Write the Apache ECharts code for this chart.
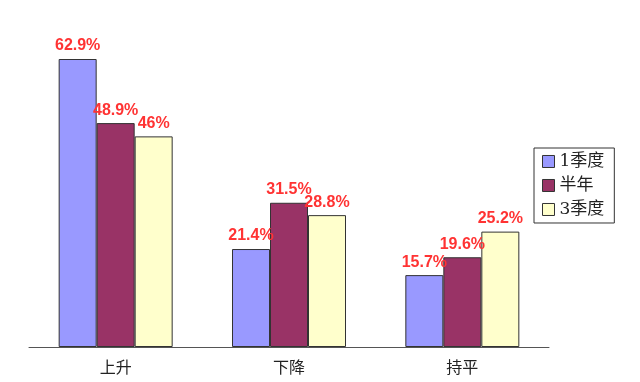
<!DOCTYPE html>
<html><head><meta charset="utf-8">
<script src="https://cdn.jsdelivr.net/npm/echarts@6/dist/echarts.min.js"></script>
<style>html,body{margin:0;padding:0;background:#fff}#c{width:640px;height:382px}</style>
</head><body><div id="c"></div>
<script>
const categories = ['上升', '下降', '持平'];
const seriesNames = ['1季度', '半年', '3季度'];
const q1 = [62.9, 21.4, 15.7];
const half = [48.9, 31.5, 19.6];
const q3 = [46, 28.8, 25.2];
const colors = ['#9999FF', '#993366', '#FFFFCC'];

const chart = echarts.init(document.getElementById('c'));
const mk = (name, data, color) => ({
  name, type: 'bar', data, barWidth: 38, barGap: 0,
  itemStyle: { color, borderColor: '#333', borderWidth: 1 },
  label: { show: true, position: 'top', distance: 5, formatter: p => p.value + '%',
    color: '#FF3333', fontWeight: 'bold', fontSize: 16, fontFamily: 'Liberation Sans, Arial, sans-serif' }
});
chart.setOption({
  animation: false,
  grid: { left: 29, right: 91, top: 26.5, bottom: 35 },
  legend: {
    orient: 'vertical', left: 534, top: 148,
    padding: [5, 10, 5, 8], itemGap: 7, itemWidth: 12, itemHeight: 12,
    borderColor: '#333', borderWidth: 1,
    icon: 'rect',
    textStyle: { fontSize: 17, color: '#222', fontFamily: 'DejaVu Serif, Noto Sans CJK SC, serif' },
    data: seriesNames.map((n, i) => ({ name: n, itemStyle: { color: colors[i], borderColor: '#333', borderWidth: 1 } }))
  },
  xAxis: {
    type: 'category', data: categories,
    axisLine: { lineStyle: { color: '#555', width: 1 } },
    axisTick: { inside: true, length: 5, lineStyle: { color: '#555' } },
    axisLabel: { fontSize: 16, color: '#222', margin: 12, fontFamily: 'Noto Sans CJK SC, sans-serif' }
  },
  yAxis: { type: 'value', min: 0, max: 70, show: false, splitLine: { show: false } },
  series: [mk(seriesNames[0], q1, colors[0]), mk(seriesNames[1], half, colors[1]), mk(seriesNames[2], q3, colors[2])]
});
</script></body></html>
